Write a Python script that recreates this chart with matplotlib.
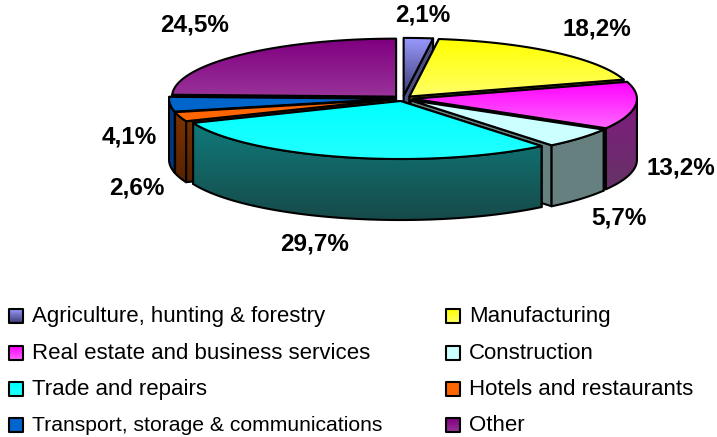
import numpy as np
import matplotlib
matplotlib.use("Agg")
import matplotlib.pyplot as plt
from matplotlib.patches import Polygon
from matplotlib.colors import to_rgb

plt.rcParams['font.family'] = ['Liberation Sans', 'DejaVu Sans']

categories = ['Agriculture, hunting & forestry', 'Manufacturing',
              'Real estate and business services', 'Construction',
              'Trade and repairs', 'Hotels and restaurants',
              'Transport, storage & communications', 'Other']
values = [2.1, 18.2, 13.2, 5.7, 29.7, 2.6, 4.1, 24.5]
value_labels = ['2,1%', '18,2%', '13,2%', '5,7%', '29,7%', '2,6%', '4,1%', '24,5%']

# colours: top face gradient (top, bottom), wall gradient (top, bottom)
top_colors = [('#9999ff', '#3a3a70'), ('#ffff00', '#ffff66'), ('#ff00ff', '#ff66ff'),
              ('#ccffff', '#ccffff'), ('#00ffff', '#22ffff'), ('#ff6600', '#ff6600'),
              ('#0066cc', '#0066cc'), ('#800080', '#993399')]
wall_colors = [('#4d4d80', '#4d4d80'), ('#808000', '#808000'), ('#801a80', '#663366'),
               ('#668080', '#668080'), ('#0f7a7a', '#174a4a'), ('#803300', '#552200'),
               ('#003a80', '#003a80'), ('#400040', '#400040')]

# label centres in pixels
label_pos = [(423, 15), (597, 29), (681, 168), (619, 218), (315, 244), (137, 188), (129, 137), (195, 25)]
legend_sizes = [16, 16, 16, 16, 16, 16, 15.2, 16]

cx, cy = 403, 98.5
rx, ry = 224, 58
depth = 61
explode = 10

fig = plt.figure(figsize=(7.17, 4.37), dpi=100)
ax = fig.add_axes([0, 0, 1, 1])


def gradient_poly(pts, c1, c2, zorder):
    pts = np.array(pts)
    poly = Polygon(pts, closed=True, facecolor='none', edgecolor='black', lw=1.5,
                   joinstyle='round', zorder=zorder + 0.5)
    ax.add_patch(poly)
    grad = np.linspace(to_rgb(c1), to_rgb(c2), 64).reshape(64, 1, 3)
    im = ax.imshow(grad, extent=(pts[:, 0].min(), pts[:, 0].max(), pts[:, 1].max(), pts[:, 1].min()),
                   origin='upper', aspect='auto', zorder=zorder, interpolation='bilinear')
    im.set_clip_path(poly)


def arc(tip, a, b):
    t = np.radians(np.linspace(a, b, 80))
    return np.column_stack([tip[0] + rx * np.sin(t), tip[1] - ry * np.cos(t)])


total = sum(values)
edges = np.concatenate([[0], np.cumsum(values)]) / total * 360
# back slices first, the front one last
order = [7, 0, 1, 6, 2, 5, 3, 4]
z = 1
for i in order:
    a, b = edges[i], edges[i + 1]
    mid_deg = (a + b) / 2
    mid = np.radians(mid_deg)
    tip = (cx + explode * np.sin(mid), cy - explode * 0.26 * np.cos(mid))
    drop = np.array([0, depth])
    # cut faces, the one facing away first
    for ang in ((a, b) if mid_deg < 180 else (b, a)):
        end = arc(tip, ang, ang)[0]
        gradient_poly([tip, end, end + drop, np.array(tip) + drop], *wall_colors[i], z)
        z += 1
    # rim
    lo, hi = max(a, 90), min(b, 270)
    if lo < hi:
        rim = arc(tip, lo, hi)
        gradient_poly(np.vstack([rim, rim[::-1] + drop]), *wall_colors[i], z)
        z += 1
    # top face
    gradient_poly(np.vstack([[tip], arc(tip, a, b)]), *top_colors[i], z)
    z += 1

for txt, (x, y) in zip(value_labels, label_pos):
    ax.text(x, y, txt, ha='center', va='center', fontsize=17.5, fontweight='bold', color='black', zorder=200)

# legend, two columns, read across
col_x = [9, 446]
row_y = [316, 353, 389, 425]
for i, name in enumerate(categories):
    x = col_x[i % 2]
    y = row_y[i // 2]
    gradient_poly([(x, y - 7), (x + 14, y - 7), (x + 14, y + 7), (x, y + 7)], *top_colors[i], 200 + i)
    ax.text(x + 23, y + 0.5, name, ha='left', va='center', fontsize=legend_sizes[i], color='black', zorder=300)

ax.set_xlim(0, 717)
ax.set_ylim(437, 0)
ax.axis('off')
fig.savefig('out.png', dpi=100)
